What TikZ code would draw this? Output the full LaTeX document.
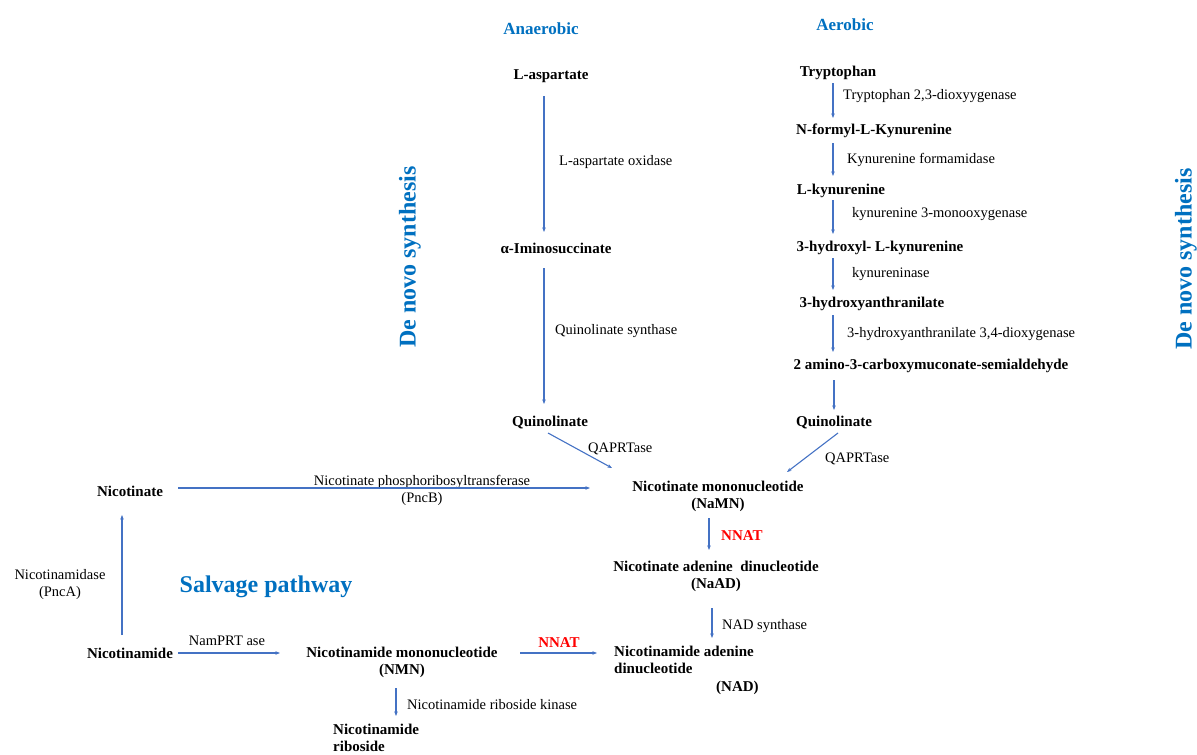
\documentclass[tikz,border=0pt]{standalone}
\usepackage{fontspec}
\setmainfont{Liberation Serif}
\usetikzlibrary{arrows.meta,calc}
\definecolor{hblue}{RGB}{0,112,192}
\definecolor{ablue}{RGB}{68,114,196}
\definecolor{nred}{RGB}{255,0,0}
\tikzset{
 every node/.style={yshift=-2pt},
 met/.style={font=\bfseries\fontsize{15}{17.5}\selectfont, inner sep=0pt, align=center},
 enz/.style={font=\fontsize{14.5}{17}\selectfont, inner sep=0pt, align=center},
 head/.style={font=\bfseries\fontsize{17}{20}\selectfont, text=hblue, inner sep=0pt},
 big/.style={font=\bfseries\fontsize{24}{28}\selectfont, text=hblue, inner sep=0pt},
 nnat/.style={font=\bfseries\fontsize{15}{17}\selectfont, text=nred, inner sep=0pt},
 arr/.style={draw=ablue, line width=1.1pt, -{Stealth[length=4.5pt,width=3.5pt]}},
}
\begin{document}
\begin{tikzpicture}[x=1pt,y=-1pt]
\useasboundingbox (0,0) rectangle (1197,755);
% headings
\node[head] (anaer) at (541,27) {Anaerobic};
\node[head] (aer) at (845,23) {Aerobic};
\node[big,rotate=90] (dn1) at (410,255) {De novo synthesis};
\node[big,rotate=90] (dn2) at (1186,257) {De novo synthesis};
\node[big] (salv) at (266,585) {Salvage pathway};
% anaerobic branch
\node[met] (asp) at (551,74) {L-aspartate};
\node[enz,anchor=west] (aox) at (559,160) {L-aspartate oxidase};
\node[met] (ima) at (556,246) {α-Iminosuccinate};
\node[enz,anchor=west] (qs) at (555,329) {Quinolinate synthase};
\node[met] (q1) at (550,421) {Quinolinate};
\node[enz,anchor=west] (qa1) at (588,447) {QAPRTase};
% aerobic branch
\node[met] (trp) at (838,71) {Tryptophan};
\node[enz,anchor=west] (e1) at (843,94) {Tryptophan 2,3-dioxyygenase};
\node[met] (nfk) at (874,129) {N-formyl-L-Kynurenine};
\node[enz,anchor=west] (e2) at (847,158) {Kynurenine formamidase};
\node[met] (lkyn) at (841,189) {L-kynurenine};
\node[enz,anchor=west] (e3) at (852,212) {kynurenine 3-monooxygenase};
\node[met] (hk) at (880,246) {3-hydroxyl- L-kynurenine};
\node[enz,anchor=west] (e4) at (852,272) {kynureninase};
\node[met] (ha) at (872,302) {3-hydroxyanthranilate};
\node[enz,anchor=west] (e5) at (847,332) {3-hydroxyanthranilate 3,4-dioxygenase};
\node[met] (acms) at (931,364) {2 amino-3-carboxymuconate-semialdehyde};
\node[met] (q2) at (834,421) {Quinolinate};
\node[enz,anchor=west] (qa2) at (825,457) {QAPRTase};
% central
\node[met] (na) at (130,489) {Nicotinate};
\node[enz] (pncb) at (422,488.5) {Nicotinate phosphoribosyltransferase\\(PncB)};
\node[met] (namn) at (718,494.5) {Nicotinate mononucleotide\\(NaMN)};
\node[nnat,anchor=west] (nn1) at (721,534) {NNAT};
\node[met] (naad) at (716,574.5) {Nicotinate adenine\ \ dinucleotide\\(NaAD)};
\node[enz,anchor=west] (nads) at (722,624) {NAD synthase};
\node[met,align=left,anchor=west] (nad) at (614,668) {Nicotinamide adenine\\dinucleotide\\\hspace*{102pt}(NAD)};
% salvage
\node[nnat] (nn2) at (559,641) {NNAT};
\node[met] (nam) at (130,651) {Nicotinamide};
\node[enz] (nprt) at (227,639) {NamPRT ase};
\node[met] (nmn) at (402,660.5) {Nicotinamide mononucleotide\\(NMN)};
\node[enz,anchor=west] (nrk) at (407,703) {Nicotinamide riboside kinase};
\node[met,align=left,anchor=west,font=\bfseries\fontsize{15}{16.5}\selectfont] (nr) at (333,736) {Nicotinamide\\riboside};
\node[enz] (pnca) at (60,583) {Nicotinamidase\\(PncA)};
% arrows (offsets compensate the 2pt node shift)
\draw[arr] ($(asp.center)+(-7,20)$) -- ($(ima.center)+(-12,-16)$);
\draw[arr] ($(ima.center)+(-12,20)$) -- ($(q1.center)+(-6,-19)$);
\draw[arr] ($(trp.center)+(-5,10)$) -- ($(nfk.center)+(-41,-13)$);
\draw[arr] ($(nfk.center)+(-41,12)$) -- ($(lkyn.center)+(-8,-15)$);
\draw[arr] ($(lkyn.center)+(-8,9)$) -- ($(hk.center)+(-47,-14)$);
\draw[arr] ($(hk.center)+(-47,10)$) -- ($(ha.center)+(-39,-14)$);
\draw[arr] ($(ha.center)+(-39,11)$) -- ($(acms.center)+(-98,-14)$);
\draw[arr] ($(acms.center)+(-97,14)$) -- ($(q2.center)+(0,-13)$);
\draw[arr] ($(q1.center)+(-2,10)$) -- ($(namn.center)+(-106,-28.5)$);
\draw[arr] ($(q2.center)+(4,10)$) -- ($(namn.center)+(69,-24.5)$);
\draw[arr] ($(na.center)+(48,-3)$) -- ($(namn.center)+(-128,-8.5)$);
\draw[arr] ($(namn.center)+(-9,21.5)$) -- ($(naad.center)+(-7,-26.5)$);
\draw[arr] ($(naad.center)+(-4,31.5)$) -- ($(nad.west)+(98,-32)$);
\draw[arr] ($(nam.center)+(-8,-18)$) -- ($(na.center)+(-8,24)$);
\draw[arr] ($(nam.center)+(48,0)$) -- ($(nmn.center)+(-122,-9.5)$);
\draw[arr] ($(nmn.center)+(118,-9.5)$) -- ($(nad.west)+(-17,-17)$);
\draw[arr] ($(nmn.center)+(-6,25.5)$) -- ($(nr.west)+(63,-22)$);
\end{tikzpicture}
\end{document}
